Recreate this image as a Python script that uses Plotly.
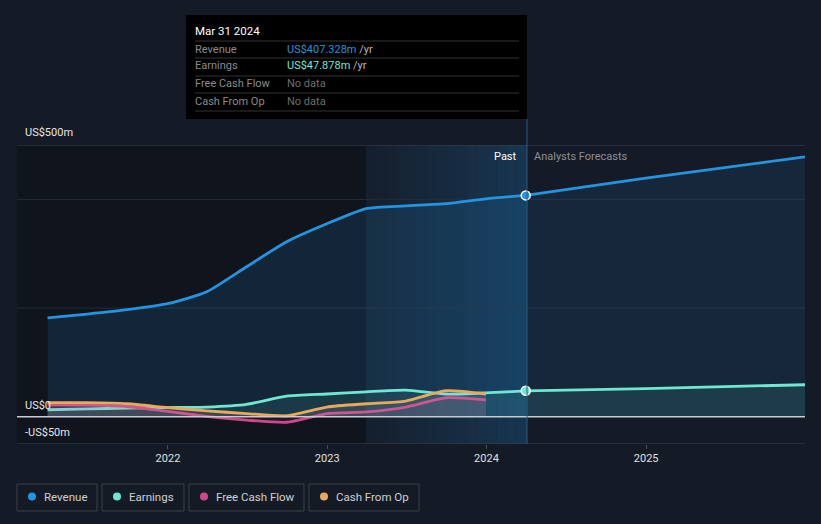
import plotly.graph_objects as go

# ---------------- data (US$ millions) ----------------
past_dates = ["2021-03-31", "2021-06-30", "2021-09-30", "2021-12-31",
              "2022-03-31", "2022-06-30", "2022-09-30", "2022-12-31",
              "2023-03-31", "2023-06-30", "2023-09-30", "2023-12-31",
              "2024-03-31"]
revenue_past = [182, 189, 197, 208, 230, 276, 322, 355, 383, 388, 392, 401, 407.328]
earnings_past = [13, 14.5, 16, 17, 18, 23, 38, 42, 46, 49, 42, 44, 47.878]

cf_dates = past_dates[:-1]
fcf = [22, 21.5, 19, 10, 1, -6, -10, 6, 9, 18, 35, 31]
cfo = [26, 26, 24, 17, 11, 6, 2, 18, 24, 29, 48, 42]

fc_dates = ["2024-03-31", "2024-12-31", "2025-12-31"]
revenue_fc = [407.328, 439, 478]
earnings_fc = [47.878, 52, 59]

y_ticks = [500, 0, -50]
y_tick_labels = ["US$500m", "US$0", "-US$50m"]
grid_vals = [400, 200]
x_ticks = ["2022-01-01", "2023-01-01", "2024-01-01", "2025-01-01"]
x_tick_labels = ["2022", "2023", "2024", "2025"]

legend_names = ["Revenue", "Earnings", "Free Cash Flow", "Cash From Op"]

# ---------------- styling ----------------
W, H = 821, 524
L, R, T, B = 17, 805, 145, 444
BG = "#151b26"
C_REV = "#2394df"
C_EARN = "#6ee7d5"
C_FCF = "#d1478b"
C_CFO = "#e8a95a"
FONT = "Roboto"


def px(x):
    return (x - L) / (R - L)


def py(y):
    return (B - y) / (B - T)


fig = go.Figure()

line_kw = dict(width=2.8, shape="spline", smoothing=0.6)

# revenue
fig.add_trace(go.Scatter(x=past_dates, y=revenue_past, mode="lines",
                         line=dict(color=C_REV, **line_kw),
                         fill="tozeroy", fillcolor="rgba(35,148,223,0.14)",
                         hoverinfo="skip", showlegend=False))
fig.add_trace(go.Scatter(x=fc_dates, y=revenue_fc, mode="lines",
                         line=dict(color=C_REV, **line_kw),
                         fill="tozeroy", fillcolor="rgba(35,148,223,0.10)",
                         hoverinfo="skip", showlegend=False))
# earnings
fig.add_trace(go.Scatter(x=past_dates, y=earnings_past, mode="lines",
                         line=dict(color=C_EARN, **line_kw),
                         fill="tozeroy", fillcolor="rgba(110,231,213,0.10)",
                         hoverinfo="skip", showlegend=False))
fig.add_trace(go.Scatter(x=fc_dates, y=earnings_fc, mode="lines",
                         line=dict(color=C_EARN, **line_kw),
                         fill="tozeroy", fillcolor="rgba(110,231,213,0.10)",
                         hoverinfo="skip", showlegend=False))
# free cash flow
fig.add_trace(go.Scatter(x=cf_dates, y=fcf, mode="lines",
                         line=dict(color=C_FCF, **line_kw),
                         fill="tozeroy", fillcolor="rgba(209,71,139,0.10)",
                         hoverinfo="skip", showlegend=False))
# cash from op
fig.add_trace(go.Scatter(x=cf_dates, y=cfo, mode="lines",
                         line=dict(color=C_CFO, **line_kw),
                         fill="tozeroy", fillcolor="rgba(200,200,200,0.12)",
                         hoverinfo="skip", showlegend=False))
# highlight dots
fig.add_trace(go.Scatter(x=[past_dates[-1]], y=[revenue_past[-1]], mode="markers",
                         marker=dict(color=C_REV, size=9, line=dict(color="white", width=1.5)),
                         hoverinfo="skip", showlegend=False))
fig.add_trace(go.Scatter(x=[past_dates[-1]], y=[earnings_past[-1]], mode="markers",
                         marker=dict(color=C_EARN, size=9, line=dict(color="white", width=1.5)),
                         hoverinfo="skip", showlegend=False))

shapes = []
# darker past background
shapes.append(dict(type="rect", xref="paper", yref="paper", x0=px(L), x1=px(366), y0=0, y1=1,
                   fillcolor="#10141c", line=dict(width=0), layer="below"))
# highlight gradient region (last year)
n = 16
for i in range(n):
    x0 = 366 + (527 - 366) * i / n
    x1 = 366 + (527 - 366) * (i + 1) / n
    a = 0.06 + 0.24 * i / (n - 1)
    shapes.append(dict(type="rect", xref="paper", yref="paper", x0=px(x0), x1=px(x1), y0=0, y1=1,
                       fillcolor=f"rgba(30,115,180,{a:.3f})", line=dict(width=0), layer="below"))
# gridlines
for v in grid_vals:
    shapes.append(dict(type="line", xref="paper", yref="y", x0=0, x1=1, y0=v, y1=v,
                       line=dict(color="#262d3a", width=1), layer="below"))
shapes.append(dict(type="line", xref="paper", yref="y", x0=0, x1=1, y0=500, y1=500,
                   line=dict(color="#3c424c", width=1)))
shapes.append(dict(type="line", xref="paper", yref="y", x0=0, x1=1, y0=-50, y1=-50,
                   line=dict(color="#3c424c", width=1)))
shapes.append(dict(type="line", xref="paper", yref="y", x0=0, x1=1, y0=0, y1=0,
                   line=dict(color="#c8ccd2", width=1.5)))
# vertical line at now
shapes.append(dict(type="line", xref="paper", yref="paper", x0=px(527), x1=px(527),
                   y0=0, y1=py(119), line=dict(color="#2a5a85", width=1)))
# tooltip box
shapes.append(dict(type="rect", xref="paper", yref="paper", x0=px(186), x1=px(527),
                   y0=py(119), y1=py(15), fillcolor="#000000", line=dict(width=0)))
for yy in [41, 58, 76, 93, 111]:
    shapes.append(dict(type="line", xref="paper", yref="paper", x0=px(195), x1=px(519),
                       y0=py(yy), y1=py(yy), line=dict(color="#333333", width=1)))

annotations = []


def ann(x, y, text, color, size=11, xanchor="left", yanchor="middle"):
    annotations.append(dict(x=px(x), y=py(y), xref="paper", yref="paper", text=text,
                            showarrow=False, xanchor=xanchor, yanchor=yanchor,
                            borderpad=0,
                            font=dict(family=FONT, size=size, color=color)))


# y labels
y_label_pos = [132, 405, 432]
for lab, yl in zip(y_tick_labels, y_label_pos):
    ann(24, yl, lab, "#e6e6e6", 11)

# tooltip text
ann(194, 31, "Mar 31 2024", "#ffffff", 11.5)
rows = [("Revenue", f"<span style='color:{C_REV}'>US$407.328m</span> /yr", 49),
        ("Earnings", f"<span style='color:{C_EARN}'>US$47.878m</span> /yr", 66),
        ("Free Cash Flow", "No data", 84),
        ("Cash From Op", "No data", 101)]
for lab, val, yy in rows:
    ann(194, yy, lab, "#8a8a8a", 11)
    ann(286, yy, val, "#6e6e6e" if val == "No data" else "#b8b8b8", 11)

# past / forecast labels
ann(518, 156, "Past", "#ffffff", 11, xanchor="right")
ann(533, 156, "Analysts Forecasts", "#8c8f95", 11)

# legend
legend_boxes = [(17, 97), (102, 184), (189, 304), (309, 419)]
legend_colors = [C_REV, C_EARN, C_FCF, C_CFO]
for (x0, x1), name, col in zip(legend_boxes, legend_names, legend_colors):
    shapes.append(dict(type="rect", xref="paper", yref="paper", x0=px(x0), x1=px(x1),
                       y0=py(511), y1=py(484), line=dict(color="#3a3f48", width=1),
                       fillcolor="rgba(0,0,0,0)"))
    shapes.append(dict(type="circle", xref="paper", yref="paper", x0=px(x0 + 11), x1=px(x0 + 19),
                       y0=py(500.5), y1=py(492.5), fillcolor=col, line=dict(width=0)))
    ann(x0 + 26, 496.5, name, "#d0d0d0", 11.5)

fig.update_layout(
    width=W, height=H,
    margin=dict(l=L, r=W - R, t=T, b=H - B),
    paper_bgcolor=BG, plot_bgcolor=BG,
    showlegend=False,
    shapes=shapes, annotations=annotations,
    font=dict(family=FONT),
    xaxis=dict(type="date", range=["2021-01-20", "2025-12-31"],
               tickvals=x_ticks, ticktext=x_tick_labels,
               showgrid=False, zeroline=False, showline=False,
               ticks="outside", ticklen=4, tickcolor="#4a505a",
               tickfont=dict(family=FONT, size=11, color="#e0e0e0")),
    yaxis=dict(range=[-50, 500], showgrid=False, zeroline=False, showticklabels=False,
               fixedrange=True),
)

fig.write_html("out.html", config={"displayModeBar": False},
               post_script="document.body.style.margin='0';document.body.style.background='%s';" % BG)
